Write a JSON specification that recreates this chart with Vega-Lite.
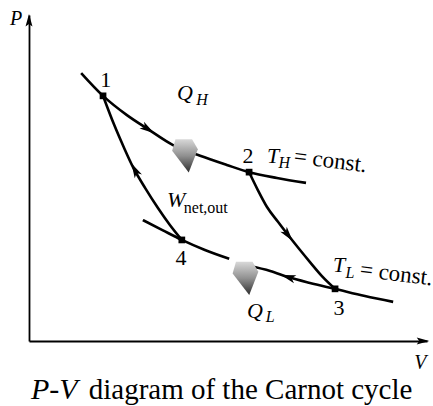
{
  "$schema": "https://vega.github.io/schema/vega-lite/v6.json",
  "width": 398,
  "height": 326,
  "autosize": "none",
  "padding": {"left": 29, "top": 15, "right": 6, "bottom": 65},
  "background": "white",
  "config": {"view": {"stroke": null}, "text": {"font": "'Liberation Serif', 'Times New Roman', Times, 'DejaVu Serif', serif"}},
  "datasets": {
    "curves": [
      {"seg": "TH", "i": 0, "V": 1.31, "P": 8.22},
      {"seg": "TH", "i": 1, "V": 1.86, "P": 7.52},
      {"seg": "TH", "i": 2, "V": 2.46, "P": 6.93},
      {"seg": "TH", "i": 3, "V": 2.99, "P": 6.50},
      {"seg": "TH", "i": 4, "V": 3.62, "P": 6.01},
      {"seg": "TH", "i": 5, "V": 4.30, "P": 5.68},
      {"seg": "TH", "i": 6, "V": 4.97, "P": 5.40},
      {"seg": "TH", "i": 7, "V": 5.53, "P": 5.18},
      {"seg": "TH", "i": 8, "V": 6.23, "P": 5.00},
      {"seg": "TH", "i": 9, "V": 6.96, "P": 4.85},
      {"seg": "A41", "i": 0, "V": 1.86, "P": 7.52},
      {"seg": "A41", "i": 1, "V": 2.14, "P": 6.63},
      {"seg": "A41", "i": 2, "V": 2.39, "P": 5.92},
      {"seg": "A41", "i": 3, "V": 2.61, "P": 5.34},
      {"seg": "A41", "i": 4, "V": 2.92, "P": 4.69},
      {"seg": "A41", "i": 5, "V": 3.24, "P": 4.08},
      {"seg": "A41", "i": 6, "V": 3.54, "P": 3.56},
      {"seg": "A41", "i": 7, "V": 3.84, "P": 3.10},
      {"seg": "A23", "i": 0, "V": 5.53, "P": 5.18},
      {"seg": "A23", "i": 1, "V": 5.75, "P": 4.63},
      {"seg": "A23", "i": 2, "V": 5.98, "P": 4.11},
      {"seg": "A23", "i": 3, "V": 6.26, "P": 3.65},
      {"seg": "A23", "i": 4, "V": 6.51, "P": 3.25},
      {"seg": "A23", "i": 5, "V": 6.81, "P": 2.79},
      {"seg": "A23", "i": 6, "V": 7.06, "P": 2.42},
      {"seg": "A23", "i": 7, "V": 7.36, "P": 1.99},
      {"seg": "A23", "i": 8, "V": 7.69, "P": 1.60},
      {"seg": "TLa", "i": 0, "V": 2.86, "P": 3.71},
      {"seg": "TLa", "i": 1, "V": 3.34, "P": 3.41},
      {"seg": "TLa", "i": 2, "V": 3.84, "P": 3.10},
      {"seg": "TLa", "i": 3, "V": 4.42, "P": 2.79},
      {"seg": "TLa", "i": 4, "V": 5.03, "P": 2.52},
      {"seg": "TLb", "i": 0, "V": 5.53, "P": 2.30},
      {"seg": "TLb", "i": 1, "V": 6.06, "P": 2.15},
      {"seg": "TLb", "i": 2, "V": 6.51, "P": 1.96},
      {"seg": "TLb", "i": 3, "V": 7.06, "P": 1.78},
      {"seg": "TLb", "i": 4, "V": 7.69, "P": 1.60},
      {"seg": "TLb", "i": 5, "V": 8.44, "P": 1.38},
      {"seg": "TLb", "i": 6, "V": 9.15, "P": 1.20}
    ],
    "states": [
      {"state": "1", "V": 1.86, "P": 7.52},
      {"state": "2", "V": 5.53, "P": 5.18},
      {"state": "3", "V": 7.69, "P": 1.60},
      {"state": "4", "V": 3.84, "P": 3.10}
    ],
    "directions": [
      {"process": "1-2", "V": 2.99, "P": 6.50},
      {"process": "2-3", "V": 6.51, "P": 3.25},
      {"process": "3-4", "V": 6.51, "P": 1.96},
      {"process": "4-1", "V": 2.66, "P": 5.25}
    ],
    "heat": [
      {"heat": "QH", "V": 3.93, "P": 5.68},
      {"heat": "QL", "V": 5.45, "P": 1.92}
    ],
    "axes": [
      {"axis": "P", "V": 0, "P": 9.84},
      {"axis": "V", "V": 9.9, "P": 0}
    ]
  },
  "encoding": {
    "x": {"field": "V", "type": "quantitative", "scale": {"domain": [0, 10], "nice": false, "zero": false},
      "axis": {"domain": true, "domainColor": "black", "domainWidth": 1.8, "ticks": false, "labels": false, "grid": false, "title": null}},
    "y": {"field": "P", "type": "quantitative", "scale": {"domain": [0, 10], "nice": false, "zero": false},
      "axis": {"domain": true, "domainColor": "black", "domainWidth": 1.8, "ticks": false, "labels": false, "grid": false, "title": null}}
  },
  "layer": [
    {
      "data": {"name": "curves"},
      "mark": {"type": "line", "color": "black", "strokeWidth": 2.6, "interpolate": "monotone", "clip": false},
      "encoding": {"detail": {"field": "seg"}, "order": {"field": "i", "type": "quantitative"}}
    },
    {
      "data": {"name": "heat"},
      "mark": {"type": "point", "filled": true, "size": 1100, "angle": 0, "opacity": 1,
        "shape": "M-0.6,-1 L0.4,-1 L0.75,-0.4 L0.2,1 L-0.8,-0.3 Z",
        "color": {"gradient": "linear", "x1": 0, "y1": 0, "x2": 0, "y2": 1,
          "stops": [{"offset": 0, "color": "#d8d8d8"}, {"offset": 0.5, "color": "#909090"}, {"offset": 1, "color": "#2e2e2e"}]}}
    },
    {
      "data": {"name": "states"},
      "mark": {"type": "point", "shape": "square", "filled": true, "color": "black", "size": 45, "opacity": 1}
    },
    {
      "data": {"name": "directions"},
      "transform": [{"filter": "datum.process === '1-2'"}],
      "mark": {"type": "point", "filled": true, "color": "black", "size": 220, "opacity": 1, "angle": 33,
        "shape": "M1,0 L-1,-0.55 L-0.5,0 L-1,0.55 Z"}
    },
    {
      "data": {"name": "directions"},
      "transform": [{"filter": "datum.process === '2-3'"}],
      "mark": {"type": "point", "filled": true, "color": "black", "size": 220, "opacity": 1, "angle": 52,
        "shape": "M1,0 L-1,-0.55 L-0.5,0 L-1,0.55 Z"}
    },
    {
      "data": {"name": "directions"},
      "transform": [{"filter": "datum.process === '3-4'"}],
      "mark": {"type": "point", "filled": true, "color": "black", "size": 220, "opacity": 1, "angle": 197,
        "shape": "M1,0 L-1,-0.55 L-0.5,0 L-1,0.55 Z"}
    },
    {
      "data": {"name": "directions"},
      "transform": [{"filter": "datum.process === '4-1'"}],
      "mark": {"type": "point", "filled": true, "color": "black", "size": 220, "opacity": 1, "angle": 242,
        "shape": "M1,0 L-1,-0.55 L-0.5,0 L-1,0.55 Z"}
    },
    {
      "data": {"name": "axes"},
      "transform": [{"filter": "datum.axis === 'P'"}],
      "mark": {"type": "point", "filled": true, "color": "black", "size": 160, "opacity": 1, "clip": false, "angle": 270,
        "shape": "M1,0 L-1,-0.55 L-0.6,0 L-1,0.55 Z"}
    },
    {
      "data": {"name": "axes"},
      "transform": [{"filter": "datum.axis === 'V'"}],
      "mark": {"type": "point", "filled": true, "color": "black", "size": 160, "opacity": 1, "clip": false, "angle": 0,
        "shape": "M1,0 L-1,-0.55 L-0.6,0 L-1,0.55 Z"}
    },
    {
      "data": {"values": [
        {"t": "1", "V": 1.93, "P": 7.79},
        {"t": "2", "V": 5.50, "P": 5.46},
        {"t": "3", "V": 7.79, "P": 0.80},
        {"t": "4", "V": 3.82, "P": 2.33}
      ]},
      "mark": {"type": "text", "fontSize": 22, "align": "center", "baseline": "alphabetic", "color": "black"},
      "encoding": {"text": {"field": "t"}}
    },
    {
      "data": {"values": [
        {"t": "Q", "V": 3.72, "P": 7.39},
        {"t": "T", "V": 5.98, "P": 5.46},
        {"t": "W", "V": 3.47, "P": 4.11},
        {"t": "T", "V": 7.64, "P": 2.12},
        {"t": "Q", "V": 5.48, "P": 0.71}
      ]},
      "mark": {"type": "text", "fontStyle": "italic", "fontSize": 22, "align": "left", "baseline": "alphabetic", "color": "black"},
      "encoding": {"text": {"field": "t"}}
    },
    {
      "data": {"values": [
        {"t": "H", "V": 4.20, "P": 7.25},
        {"t": "H", "V": 6.27, "P": 5.31},
        {"t": "L", "V": 7.95, "P": 1.93},
        {"t": "L", "V": 5.95, "P": 0.58}
      ]},
      "mark": {"type": "text", "fontStyle": "italic", "fontSize": 16, "align": "left", "baseline": "alphabetic", "color": "black"},
      "encoding": {"text": {"field": "t"}}
    },
    {
      "data": {"values": [{"t": "net,out", "V": 3.89, "P": 3.93}]},
      "mark": {"type": "text", "fontSize": 16, "align": "left", "baseline": "alphabetic", "color": "black"},
      "encoding": {"text": {"field": "t"}}
    },
    {
      "data": {"values": [
        {"t": "= const.", "V": 6.64, "P": 5.45},
        {"t": "= const.", "V": 8.30, "P": 1.98}
      ]},
      "mark": {"type": "text", "fontSize": 23, "angle": 7, "align": "left", "baseline": "alphabetic", "color": "black", "clip": false},
      "encoding": {"text": {"field": "t"}}
    },
    {
      "data": {"values": [
        {"t": "P", "V": -0.48, "P": 9.69},
        {"t": "V", "V": 9.68, "P": -0.86}
      ]},
      "mark": {"type": "text", "fontStyle": "italic", "fontSize": 20, "align": "left", "baseline": "alphabetic", "color": "black", "clip": false},
      "encoding": {"text": {"field": "t"}}
    },
    {
      "data": {"values": [{"t": "P-V", "V": 0.05, "P": -1.78}]},
      "mark": {"type": "text", "fontStyle": "italic", "fontSize": 30, "align": "left", "baseline": "alphabetic", "color": "black", "clip": false},
      "encoding": {"text": {"field": "t"}}
    },
    {
      "data": {"values": [{"t": "diagram of the Carnot cycle", "V": 1.50, "P": -1.78}]},
      "mark": {"type": "text", "fontSize": 29, "align": "left", "baseline": "alphabetic", "color": "black", "clip": false},
      "encoding": {"text": {"field": "t"}}
    }
  ]
}
